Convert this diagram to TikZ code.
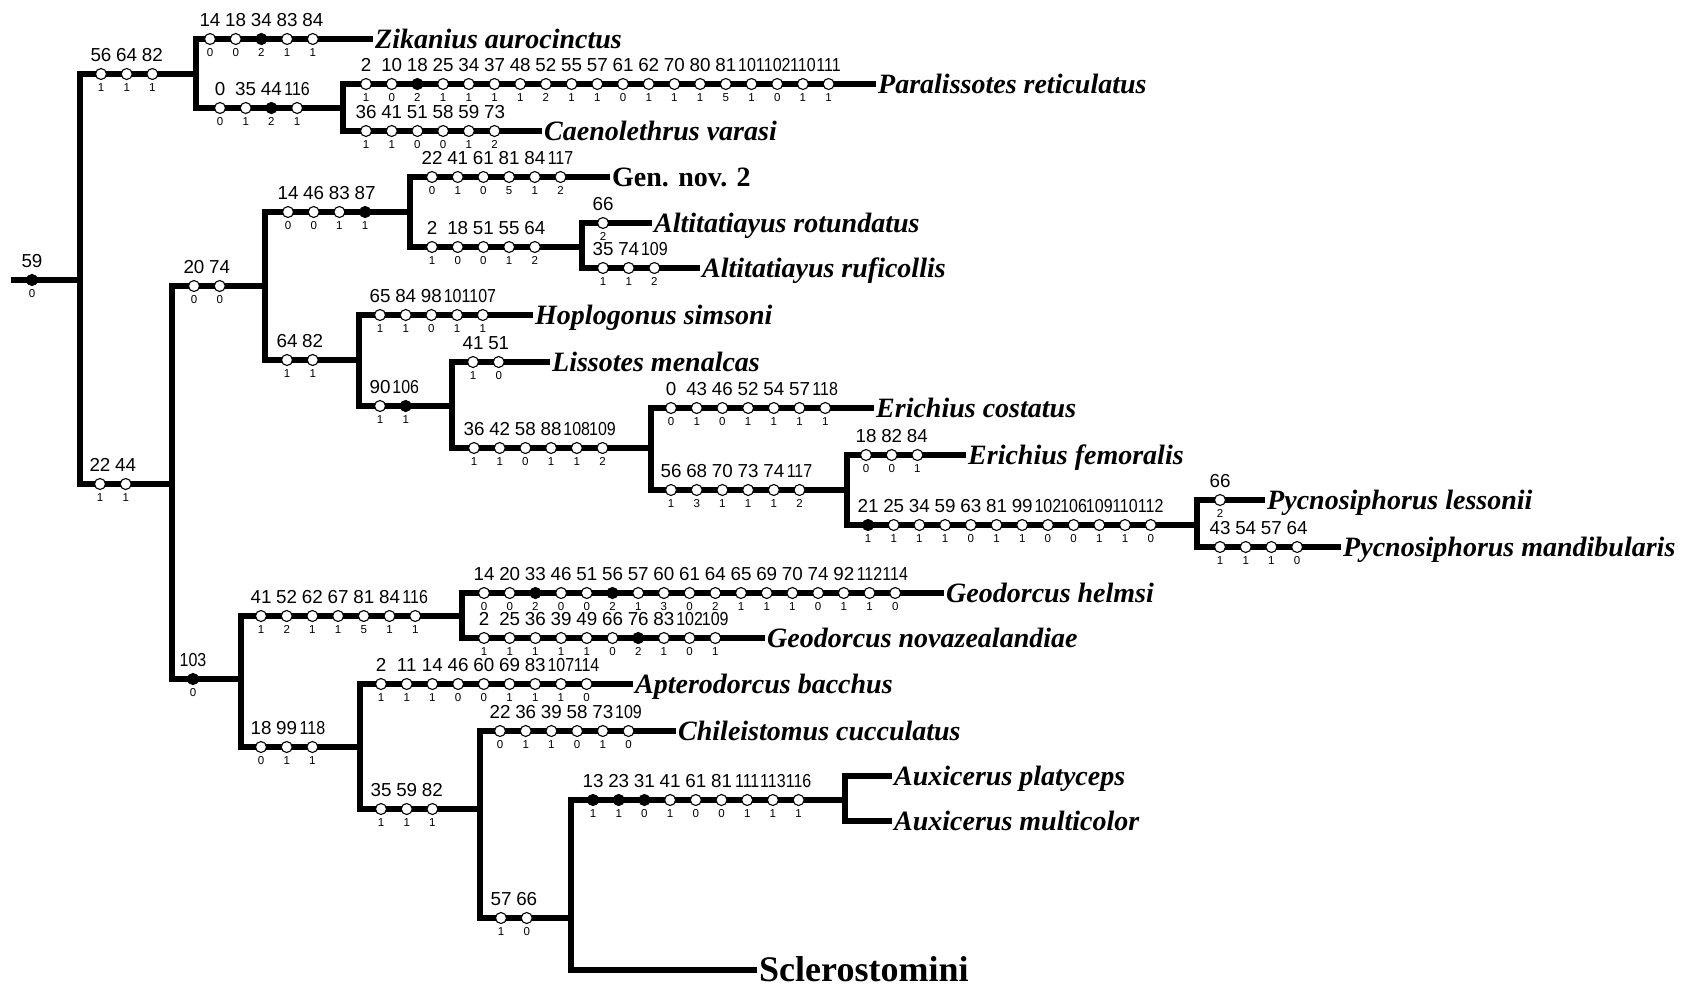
\documentclass[tikz,border=0pt]{standalone}
\usepackage{fontspec}
\setmainfont{Liberation Serif}
\newfontfamily\numfont{Liberation Sans}
\usetikzlibrary{positioning}
\tikzset{Branch/.style={%
    line width=5.3pt,%
    line join=miter,%
}}
\tikzset{CharO/.style={%
    shape=circle,%
    draw=black,%
    fill=white,%
    line width=1.1pt,%
    minimum size=11pt,%
    inner sep=0pt,%
}}
\tikzset{CharF/.style={%
    CharO,%
    fill=black,%
}}
\tikzset{CharNum/.style={%
    font=\numfont\fontsize{18.8}{20}\selectfont,%
    inner sep=0pt,%
    node distance=6.5pt,%
}}
\tikzset{StateNum/.style={%
    font=\numfont\fontsize{11.5}{12}\selectfont,%
    inner sep=0pt,%
    node distance=3.5pt,%
}}
\tikzset{Taxon/.style={%
    font=\fontsize{28}{30}\selectfont\bfseries\itshape,%
    anchor=base west,%
    inner sep=2pt,%
    yshift=-9pt,%
}}
\tikzset{Group/.style={%
    Taxon,%
    font=\fontsize{28}{30}\selectfont\bfseries,%
}}
\newcommand{\charStep}{25.7}
\newcommand{\charLabel}[1]{\ifnum#1>99 \scalebox{0.85}[1]{#1}\else#1\fi}
\NewDocumentCommand{\charRow}{m m m m}{%
    \foreach \num/\st/\kind [count=\i] in {#4}{%
        \node[\kind] (#1\i) at ({#2+(\i-1)*\charStep},#3) {};
        \node[CharNum, above=of #1\i] (#1n\i) {\charLabel{\num}};
        \node[StateNum, below=of #1\i] (#1s\i) {\st};
    }%
}

\begin{document}
\begin{tikzpicture}[x=1pt, y=-1pt]
    \useasboundingbox (0,0) rectangle (1696,989);

    % branch points
    \coordinate (rootStart) at (11,280);
    \coordinate (nRoot) at (80,280);
    \coordinate (nA) at (196,74);
    \coordinate (nB) at (343,108);
    \coordinate (nL) at (172,484);
    \coordinate (nU) at (265,286);
    \coordinate (nG) at (410,212);
    \coordinate (nAl) at (582,247);
    \coordinate (nH) at (359,360);
    \coordinate (nI) at (452,406);
    \coordinate (nE) at (651,448);
    \coordinate (nF) at (847,490);
    \coordinate (nP) at (1197,525);
    \coordinate (nD) at (241,679);
    \coordinate (nGeo) at (462,616);
    \coordinate (nM) at (360,747);
    \coordinate (nC) at (480,809);
    \coordinate (nS) at (571,918);
    \coordinate (nAux) at (845,800);

    % tips
    \coordinate (tZik) at (373,39);
    \coordinate (tPar) at (876,84);
    \coordinate (tCae) at (542,131);
    \coordinate (tGen) at (610,177);
    \coordinate (tAro) at (652,223);
    \coordinate (tAru) at (700,268);
    \coordinate (tHop) at (533,315);
    \coordinate (tLis) at (550,362);
    \coordinate (tEco) at (874,408);
    \coordinate (tEfe) at (966,455);
    \coordinate (tPle) at (1265,500);
    \coordinate (tPma) at (1341,547);
    \coordinate (tGhe) at (944,593);
    \coordinate (tGno) at (765,638);
    \coordinate (tApt) at (633,684);
    \coordinate (tChi) at (676,731);
    \coordinate (tApl) at (892,776);
    \coordinate (tAmu) at (892,821);
    \coordinate (tScl) at (757,970);

    % tree
    \draw[Branch] (rootStart) -- (nRoot);
    \draw[Branch] (nRoot) |- (nA);
    \draw[Branch] (nRoot) |- (nL);
    \draw[Branch] (nA) |- (tZik);
    \draw[Branch] (nA) |- (nB);
    \draw[Branch] (nB) |- (tPar);
    \draw[Branch] (nB) |- (tCae);
    \draw[Branch] (nL) |- (nU);
    \draw[Branch] (nL) |- (nD);
    \draw[Branch] (nU) |- (nG);
    \draw[Branch] (nU) |- (nH);
    \draw[Branch] (nG) |- (tGen);
    \draw[Branch] (nG) |- (nAl);
    \draw[Branch] (nAl) |- (tAro);
    \draw[Branch] (nAl) |- (tAru);
    \draw[Branch] (nH) |- (tHop);
    \draw[Branch] (nH) |- (nI);
    \draw[Branch] (nI) |- (tLis);
    \draw[Branch] (nI) |- (nE);
    \draw[Branch] (nE) |- (tEco);
    \draw[Branch] (nE) |- (nF);
    \draw[Branch] (nF) |- (tEfe);
    \draw[Branch] (nF) |- (nP);
    \draw[Branch] (nP) |- (tPle);
    \draw[Branch] (nP) |- (tPma);
    \draw[Branch] (nD) |- (nGeo);
    \draw[Branch] (nD) |- (nM);
    \draw[Branch] (nGeo) |- (tGhe);
    \draw[Branch] (nGeo) |- (tGno);
    \draw[Branch] (nM) |- (tApt);
    \draw[Branch] (nM) |- (nC);
    \draw[Branch] (nC) |- (tChi);
    \draw[Branch] (nC) |- (nS);
    \draw[Branch] (nS) |- (nAux);
    \draw[Branch] (nS) |- (tScl);
    \draw[Branch] (nAux) |- (tApl);
    \draw[Branch] (nAux) |- (tAmu);

    % character changes
    \charRow{Root}{32}{280}{59/0/CharF}
    \charRow{A}{101}{74}{56/1/CharO, 64/1/CharO, 82/1/CharO}
    \charRow{Zik}{210}{39}{14/0/CharO, 18/0/CharO, 34/2/CharF, 83/1/CharO, 84/1/CharO}
    \charRow{B}{220}{108}{0/0/CharO, 35/1/CharO, 44/2/CharF, 116/1/CharO}
    \charRow{Par}{366}{84}{2/1/CharO, 10/0/CharO, 18/2/CharF, 25/1/CharO, 34/1/CharO, 37/1/CharO,
        48/1/CharO, 52/2/CharO, 55/1/CharO, 57/1/CharO, 61/0/CharO, 62/1/CharO, 70/1/CharO,
        80/1/CharO, 81/5/CharO, 101/1/CharO, 102/0/CharO, 110/1/CharO, 111/1/CharO}
    \charRow{Cae}{366}{131}{36/1/CharO, 41/1/CharO, 51/0/CharO, 58/0/CharO, 59/1/CharO, 73/2/CharO}
    \charRow{L}{100}{484}{22/1/CharO, 44/1/CharO}
    \charRow{U}{194}{286}{20/0/CharO, 74/0/CharO}
    \charRow{G}{288}{212}{14/0/CharO, 46/0/CharO, 83/1/CharO, 87/1/CharF}
    \charRow{Gen}{432}{177}{22/0/CharO, 41/1/CharO, 61/0/CharO, 81/5/CharO, 84/1/CharO, 117/2/CharO}
    \charRow{Al}{432}{247}{2/1/CharO, 18/0/CharO, 51/0/CharO, 55/1/CharO, 64/2/CharO}
    \charRow{Aro}{603}{223}{66/2/CharO}
    \charRow{Aru}{603}{268}{35/1/CharO, 74/1/CharO, 109/2/CharO}
    \charRow{H}{287}{360}{64/1/CharO, 82/1/CharO}
    \charRow{Hop}{380}{315}{65/1/CharO, 84/1/CharO, 98/0/CharO, 101/1/CharO, 107/1/CharO}
    \charRow{I}{380}{406}{90/1/CharO, 106/1/CharF}
    \charRow{Lis}{473}{362}{41/1/CharO, 51/0/CharO}
    \charRow{E}{474}{448}{36/1/CharO, 42/1/CharO, 58/0/CharO, 88/1/CharO, 108/1/CharO, 109/2/CharO}
    \charRow{Eco}{671}{408}{0/0/CharO, 43/1/CharO, 46/0/CharO, 52/1/CharO, 54/1/CharO, 57/1/CharO, 118/1/CharO}
    \charRow{F}{671}{490}{56/1/CharO, 68/3/CharO, 70/1/CharO, 73/1/CharO, 74/1/CharO, 117/2/CharO}
    \charRow{Efe}{866}{455}{18/0/CharO, 82/0/CharO, 84/1/CharO}
    \charRow{P}{868}{525}{21/1/CharF, 25/1/CharO, 34/1/CharO, 59/1/CharO, 63/0/CharO, 81/1/CharO,
        99/1/CharO, 102/0/CharO, 106/0/CharO, 109/1/CharO, 110/1/CharO, 112/0/CharO}
    \charRow{Ple}{1220}{500}{66/2/CharO}
    \charRow{Pma}{1220}{547}{43/1/CharO, 54/1/CharO, 57/1/CharO, 64/0/CharO}
    \charRow{D}{193}{679}{103/0/CharF}
    \charRow{Geo}{261}{616}{41/1/CharO, 52/2/CharO, 62/1/CharO, 67/1/CharO, 81/5/CharO, 84/1/CharO, 116/1/CharO}
    \charRow{Ghe}{484}{593}{14/0/CharO, 20/0/CharO, 33/2/CharF, 46/0/CharO, 51/0/CharO, 56/2/CharF,
        57/1/CharO, 60/3/CharO, 61/0/CharO, 64/2/CharO, 65/1/CharO, 69/1/CharO, 70/1/CharO,
        74/0/CharO, 92/1/CharO, 112/1/CharO, 114/0/CharO}
    \charRow{Gno}{484}{638}{2/1/CharO, 25/1/CharO, 36/1/CharO, 39/1/CharO, 49/1/CharO, 66/0/CharO,
        76/2/CharF, 83/1/CharO, 102/0/CharO, 109/1/CharO}
    \charRow{Apt}{381}{684}{2/1/CharO, 11/1/CharO, 14/1/CharO, 46/0/CharO, 60/0/CharO, 69/1/CharO,
        83/1/CharO, 107/1/CharO, 114/0/CharO}
    \charRow{M}{261}{747}{18/0/CharO, 99/1/CharO, 118/1/CharO}
    \charRow{Chi}{500}{731}{22/0/CharO, 36/1/CharO, 39/1/CharO, 58/0/CharO, 73/1/CharO, 109/0/CharO}
    \charRow{C}{381}{809}{35/1/CharO, 59/1/CharO, 82/1/CharO}
    \charRow{Aux}{593}{800}{13/1/CharF, 23/1/CharF, 31/0/CharF, 41/1/CharO, 61/0/CharO, 81/0/CharO,
        111/1/CharO, 113/1/CharO, 116/1/CharO}
    \charRow{S}{501}{918}{57/1/CharO, 66/0/CharO}

    % taxa
    \node[Taxon] (lZik) at (tZik) {Zikanius aurocinctus};
    \node[Taxon] (lPar) at (tPar) {Paralissotes reticulatus};
    \node[Taxon] (lCae) at (tCae) {Caenolethrus varasi};
    \node[Group] (lGen) at (tGen) {Gen. nov. 2};
    \node[Taxon] (lAro) at (tAro) {Altitatiayus rotundatus};
    \node[Taxon] (lAru) at (tAru) {Altitatiayus ruficollis};
    \node[Taxon] (lHop) at (tHop) {Hoplogonus simsoni};
    \node[Taxon] (lLis) at (tLis) {Lissotes menalcas};
    \node[Taxon] (lEco) at (tEco) {Erichius costatus};
    \node[Taxon] (lEfe) at (tEfe) {Erichius femoralis};
    \node[Taxon] (lPle) at (tPle) {Pycnosiphorus lessonii};
    \node[Taxon] (lPma) at (tPma) {Pycnosiphorus mandibularis};
    \node[Taxon] (lGhe) at (tGhe) {Geodorcus helmsi};
    \node[Taxon] (lGno) at (tGno) {Geodorcus novazealandiae};
    \node[Taxon] (lApt) at (tApt) {Apterodorcus bacchus};
    \node[Taxon] (lChi) at (tChi) {Chileistomus cucculatus};
    \node[Taxon] (lApl) at (tApl) {Auxicerus platyceps};
    \node[Taxon] (lAmu) at (tAmu) {Auxicerus multicolor};
    \node[Group, font=\fontsize{36}{38}\selectfont\bfseries, yshift=-2pt] (lScl) at (tScl) {Sclerostomini};
\end{tikzpicture}
\end{document}
